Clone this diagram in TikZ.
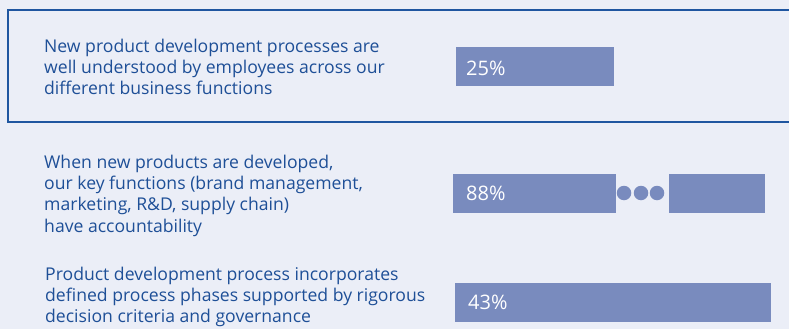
\documentclass[tikz,border=0pt]{standalone}
\usepackage{fontspec}
\setmainfont{Open Sans}
\definecolor{bg}{HTML}{EBEEF7}
\definecolor{frame}{HTML}{1F56A0}
\definecolor{bar}{HTML}{798BBE}
\definecolor{txt}{HTML}{1E4F97}
\begin{document}
\begin{tikzpicture}[x=1pt,y=-1pt,
  label/.style={anchor=north west,inner sep=0pt,align=left,text=txt,font=\fontsize{17.6}{21.3}\selectfont},
  barbox/.style={fill=bar,draw=none},
  pct/.style={anchor=base west,inner sep=0pt,text=white,font=\fontsize{20}{22}\selectfont},
  dot/.style={circle,fill=bar,inner sep=0pt,minimum size=14.5pt}]
\fill[bg] (0,0) rectangle (789,329);
\useasboundingbox (0,0) rectangle (789,329);
\draw[frame,line width=1.5pt] (789,10) -- (8,10) -- (8,122) -- (789,122);
% block 1
\node[label] (t1) at (44,38.6) {New product development processes are\\well understood by employees across our\\different business functions};
\fill[barbox] (456,47) rectangle (614,86);
\node[pct] (p1) at (466,75) {25\%};
% block 2
\node[label] (t2) at (44,154.6) {When new products are developed,\\our key functions (brand management,\\marketing, R\&D, supply chain)\\have accountability};
\fill[barbox] (453,174) rectangle (616,213);
\node[pct] (p2) at (466,200) {88\%};
\node[dot] (d1) at (624,193) {};
\node[dot] (d2) at (641,193) {};
\node[dot] (d3) at (657,193) {};
\fill[barbox] (669,174) rectangle (765,213);
% block 3
\node[label] (t3) at (45,266.6) {Product development process incorporates\\defined process phases supported by rigorous\\decision criteria and governance};
\fill[barbox] (455,283) rectangle (771,322);
\node[pct] (p3) at (468,309) {43\%};
\end{tikzpicture}
\end{document}
